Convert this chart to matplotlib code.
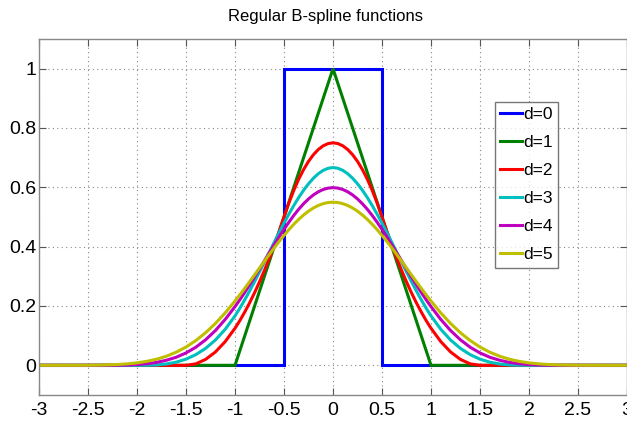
import matplotlib
matplotlib.use("Agg")
import matplotlib.pyplot as plt

# ---- data ----
x0 = [-3.0, -0.5, -0.5, 0.5, 0.5, 3.0]
y0 = [0.0, 0.0, 1.0, 1.0, 0.0, 0.0]

x1 = [-3.0, -1.0, 0.0, 1.0, 3.0]
y1 = [0.0, 0.0, 1.0, 0.0, 0.0]

xs = [-3.0, -2.9, -2.8, -2.7, -2.6, -2.5, -2.4, -2.3, -2.2, -2.1,
      -2.0, -1.9, -1.8, -1.7, -1.6, -1.5, -1.4, -1.3, -1.2, -1.1,
      -1.0, -0.95, -0.9, -0.85, -0.8, -0.75, -0.7, -0.65, -0.6, -0.55,
      -0.5, -0.45, -0.4, -0.35, -0.3, -0.25, -0.2, -0.15, -0.1, -0.05,
      0.0,
      0.05, 0.1, 0.15, 0.2, 0.25, 0.3, 0.35, 0.4, 0.45, 0.5,
      0.55, 0.6, 0.65, 0.7, 0.75, 0.8, 0.85, 0.9, 0.95, 1.0,
      1.1, 1.2, 1.3, 1.4, 1.5, 1.6, 1.7, 1.8, 1.9, 2.0,
      2.1, 2.2, 2.3, 2.4, 2.5, 2.6, 2.7, 2.8, 2.9, 3.0]

y2 = [0, 0, 0, 0, 0, 0, 0, 0, 0, 0,
      0, 0, 0, 0, 0, 0, 0.005, 0.02, 0.045, 0.08,
      0.125, 0.15125, 0.18, 0.21125, 0.245, 0.28125, 0.32, 0.36125, 0.405, 0.45125,
      0.5, 0.5475, 0.59, 0.6275, 0.66, 0.6875, 0.71, 0.7275, 0.74, 0.7475,
      0.75,
      0.7475, 0.74, 0.7275, 0.71, 0.6875, 0.66, 0.6275, 0.59, 0.5475, 0.5,
      0.45125, 0.405, 0.36125, 0.32, 0.28125, 0.245, 0.21125, 0.18, 0.15125, 0.125,
      0.08, 0.045, 0.02, 0.005, 0, 0, 0, 0, 0, 0,
      0, 0, 0, 0, 0, 0, 0, 0, 0, 0]

y3 = [0, 0, 0, 0, 0, 0, 0, 0, 0, 0,
      0, 0.0002, 0.0013, 0.0045, 0.0107, 0.0208, 0.036, 0.0572, 0.0853, 0.1215,
      0.1667, 0.1929, 0.2212, 0.2512, 0.2827, 0.3151, 0.3482, 0.3815, 0.4147, 0.4474,
      0.4792, 0.5097, 0.5387, 0.5656, 0.5902, 0.6120, 0.6307, 0.6459, 0.6572, 0.6642,
      0.6667,
      0.6642, 0.6572, 0.6459, 0.6307, 0.6120, 0.5902, 0.5656, 0.5387, 0.5097, 0.4792,
      0.4474, 0.4147, 0.3815, 0.3482, 0.3151, 0.2827, 0.2512, 0.2212, 0.1929, 0.1667,
      0.1215, 0.0853, 0.0572, 0.036, 0.0208, 0.0107, 0.0045, 0.0013, 0.0002, 0,
      0, 0, 0, 0, 0, 0, 0, 0, 0, 0]

y4 = [0, 0, 0, 0, 0, 0, 0.0, 0.0001, 0.0003, 0.0011,
      0.0026, 0.0054, 0.0100, 0.0171, 0.0273, 0.0417, 0.0610, 0.0861, 0.1173, 0.1547,
      0.1979, 0.2214, 0.2461, 0.2716, 0.2980, 0.3249, 0.3521, 0.3793, 0.4063, 0.4328,
      0.4583, 0.4826, 0.5054, 0.5261, 0.5447, 0.5609, 0.5744, 0.5850, 0.5927, 0.5974,
      0.5990,
      0.5974, 0.5927, 0.5850, 0.5744, 0.5609, 0.5447, 0.5261, 0.5054, 0.4826, 0.4583,
      0.4328, 0.4063, 0.3793, 0.3521, 0.3249, 0.2980, 0.2716, 0.2461, 0.2214, 0.1979,
      0.1547, 0.1173, 0.0861, 0.0610, 0.0417, 0.0273, 0.0171, 0.0100, 0.0054, 0.0026,
      0.0011, 0.0003, 0.0001, 0.0, 0, 0, 0, 0, 0, 0]

y5 = [0, 0, 0, 0.00002, 0.00009, 0.00026, 0.00065, 0.0014, 0.00273, 0.00492,
      0.00833, 0.0134, 0.0207, 0.0308, 0.0443, 0.0617, 0.0835, 0.1099, 0.1411, 0.1768,
      0.2167, 0.2379, 0.2598, 0.2823, 0.3051, 0.3281, 0.3510, 0.3737, 0.3959, 0.4174,
      0.4380, 0.4575, 0.4755, 0.4921, 0.5068, 0.5197, 0.5304, 0.5389, 0.5450, 0.5488,
      0.55,
      0.5488, 0.5450, 0.5389, 0.5304, 0.5197, 0.5068, 0.4921, 0.4755, 0.4575, 0.4380,
      0.4174, 0.3959, 0.3737, 0.3510, 0.3281, 0.3051, 0.2823, 0.2598, 0.2379, 0.2167,
      0.1768, 0.1411, 0.1099, 0.0835, 0.0617, 0.0443, 0.0308, 0.0207, 0.0134, 0.00833,
      0.00492, 0.00273, 0.0014, 0.00065, 0.00026, 0.00009, 0.00002, 0, 0, 0]

labels = ["d=0", "d=1", "d=2", "d=3", "d=4", "d=5"]
colors = ["#0000ff", "#008000", "#ff0000", "#00bfbf", "#bf00bf", "#bfbf00"]
xticks = [-3, -2.5, -2, -1.5, -1, -0.5, 0, 0.5, 1, 1.5, 2, 2.5, 3]
xticklabels = ["-3", "-2.5", "-2", "-1.5", "-1", "-0.5", "0", "0.5", "1", "1.5", "2", "2.5", "3"]
yticks = [0, 0.2, 0.4, 0.6, 0.8, 1]
yticklabels = ["0", "0.2", "0.4", "0.6", "0.8", "1"]
title = "Regular B-spline functions"

plt.rcParams['font.family'] = ['Liberation Sans', 'DejaVu Sans']

fig = plt.figure(figsize=(6.27, 4.24), dpi=100)
ax = fig.add_axes([39 / 627, 29 / 424, 588 / 627, 356 / 424])

series = [(x0, y0), (x1, y1), (xs, y2), (xs, y3), (xs, y4), (xs, y5)]
for (xx, yy), lab, c in zip(series, labels, colors):
    ax.plot(xx, yy, color=c, lw=2.2, label=lab, solid_joinstyle='miter')

ax.set_xlim(-3, 3)
ax.set_ylim(-0.1, 1.1)
ax.set_xticks(xticks)
ax.set_xticklabels(xticklabels)
ax.set_yticks(yticks)
ax.set_yticklabels(yticklabels)
ax.tick_params(direction='in', length=5, color='#555555', labelsize=14,
               top=True, right=True)
ax.tick_params(axis='x', pad=5)
ax.tick_params(axis='y', pad=2)
for s in ax.spines.values():
    s.set_color('#888888')
    s.set_linewidth(1.0)
ax.grid(True, linestyle=(0, (1, 3)), color='#888888', lw=0.8)

ax.set_title(title, fontsize=12, pad=13, x=(325 - 39) / 588)

leg = ax.legend(loc='upper left', bbox_to_anchor=((495 - 39) / 588, 1 - (102 - 39) / 356),
                fontsize=12.5, frameon=True, fancybox=False, handlelength=1.25,
                handletextpad=0.1, borderpad=0.3, labelspacing=0.74, borderaxespad=0)
leg.get_frame().set_edgecolor('#555555')
leg.get_frame().set_linewidth(1.0)

fig.savefig("out.png", dpi=100)
